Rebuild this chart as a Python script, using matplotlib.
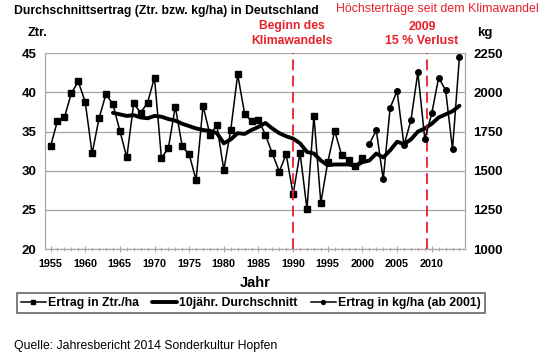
import matplotlib
matplotlib.use("Agg")
import matplotlib.pyplot as plt
from matplotlib.ticker import MultipleLocator

plt.rcParams['font.family'] = ['Liberation Sans', 'DejaVu Sans']

years_ztr = list(range(1955, 2001))
ertrag_ztr = [33.1, 36.4, 36.8, 39.9, 41.4, 38.8, 32.2, 36.7, 39.8, 38.5,
              35.1, 31.7, 38.6, 37.4, 38.7, 41.9, 31.6, 32.9, 38.2, 33.1,
              32.1, 28.8, 38.3, 34.6, 35.8, 30.1, 35.2, 42.3, 37.3, 36.3,
              36.5, 34.6, 32.2, 29.9, 32.1, 27.0, 32.3, 25.1, 37.0, 25.9,
              31.1, 35.1, 32.0, 31.4, 30.6, 31.6]

years_avg = list(range(1964, 2015))
avg_ztr = [37.4, 37.2, 37.0, 37.1, 36.8, 36.7, 37.0, 36.9, 36.6, 36.4,
           36.0, 35.7, 35.4, 35.2, 35.1, 34.8, 33.5, 34.0, 34.8, 34.7,
           35.2, 35.6, 36.1, 35.4, 34.8, 34.4, 34.1, 33.5, 32.4, 32.2,
           31.3, 30.7, 30.8, 30.8, 30.8, 30.6, 31.1, 31.3, 32.2, 31.7,
           32.6, 33.7, 33.4, 34.0, 35.0, 35.4, 36.0, 36.8, 37.2, 37.6,
           38.3]

years_kg = list(range(2001, 2015))
ertrag_kg = [1670, 1759, 1444, 1902, 2009, 1663, 1823, 2128, 1702, 1866,
             2094, 2015, 1638, 2229]

RED = '#e8202a'

fig = plt.figure(figsize=(5.4, 3.61), dpi=100)
ax = fig.add_axes([45/540, 1-249/361, 420/540, (249-53.3)/361])
ax2 = ax.twinx()

ax.plot(years_ztr, ertrag_ztr, color='black', lw=1.1, marker='s', ms=4.0,
        label='Ertrag in Ztr./ha', zorder=3)
ax.plot(years_avg, avg_ztr, color='black', lw=2.8, label='10jähr. Durchschnitt',
        zorder=4, solid_capstyle='round', solid_joinstyle='round')
ax2.plot(years_kg, ertrag_kg, color='black', lw=1.1, marker='o', ms=4.0,
         label='Ertrag in kg/ha (ab 2001)', zorder=3)

for xv in (1990.05, 2009.3):
    ax.axvline(xv, color=RED, lw=1.3, ls=(0, (6, 3)), zorder=5)

ax.set_xlim(1954.2, 2014.8)
ax.set_ylim(20, 45)
ax2.set_ylim(1000, 2250)
ax.set_yticks([20, 25, 30, 35, 40, 45])
ax2.set_yticks([1000, 1250, 1500, 1750, 2000, 2250])
ax.xaxis.set_minor_locator(MultipleLocator(1))
ax.set_xticks(range(1955, 2015, 5))

ax.yaxis.grid(True, color='#a6a6a6', lw=0.9)
ax.set_axisbelow(True)
for a in (ax, ax2):
    a.spines['top'].set_visible(False)
    for s in ('left', 'right', 'bottom'):
        a.spines[s].set_color('#a6a6a6')
ax.tick_params(axis='y', length=0, labelsize=9.5, pad=6)
ax2.tick_params(axis='y', length=0, labelsize=9.5, pad=6)
ax.tick_params(axis='x', which='both', direction='inout', color='#a6a6a6',
               labelsize=7.8, pad=5)
ax.tick_params(axis='x', which='major', length=4)
ax.tick_params(axis='x', which='minor', length=3)
for lab in ax.get_xticklabels() + ax.get_yticklabels() + ax2.get_yticklabels():
    lab.set_fontweight('bold')

ax.set_xlabel('Jahr', fontsize=10.5, fontweight='bold', labelpad=5)

fig.text(14/540, 1-11/361, 'Durchschnittsertrag (Ztr. bzw. kg/ha) in Deutschland',
         fontsize=8.8, fontweight='bold', va='center', ha='left')
fig.text(539/540, 1-9/361, 'Höchsterträge seit dem Klimawandel',
         fontsize=8.9, color=RED, va='center', ha='right')
fig.text(28/540, 1-33/361, 'Ztr.', fontsize=9.2, fontweight='bold', va='center')
fig.text(477/540, 1-33/361, 'kg', fontsize=9.5, fontweight='bold', va='center')
fig.text(292/540, 1-26/361, 'Beginn des', fontsize=8.7, fontweight='bold',
         color=RED, va='center', ha='center')
fig.text(292/540, 1-41/361, 'Klimawandels', fontsize=8.7, fontweight='bold',
         color=RED, va='center', ha='center')
fig.text(422/540, 1-27/361, '2009', fontsize=8.9, fontweight='bold',
         color=RED, va='center', ha='center')
fig.text(422/540, 1-41/361, '15 % Verlust', fontsize=8.9, fontweight='bold',
         color=RED, va='center', ha='center')
fig.text(14/540, 1-346/361, 'Quelle: Jahresbericht 2014 Sonderkultur Hopfen',
         fontsize=8.8, va='center', ha='left')

h1, l1 = ax.get_legend_handles_labels()
h2, l2 = ax2.get_legend_handles_labels()
leg = fig.legend(h1 + h2, l1 + l2, loc='center', bbox_to_anchor=(251/540, 1-303/361),
                 ncol=3, frameon=True, fancybox=False, edgecolor='#404040',
                 fontsize=8.8, handlelength=2.0, handletextpad=0.2,
                 columnspacing=1.1, borderpad=0.3, markerscale=0.7)
leg.get_frame().set_linewidth(1.2)
for t in leg.get_texts():
    t.set_fontweight('bold')

fig.savefig('out.png', dpi=100)
